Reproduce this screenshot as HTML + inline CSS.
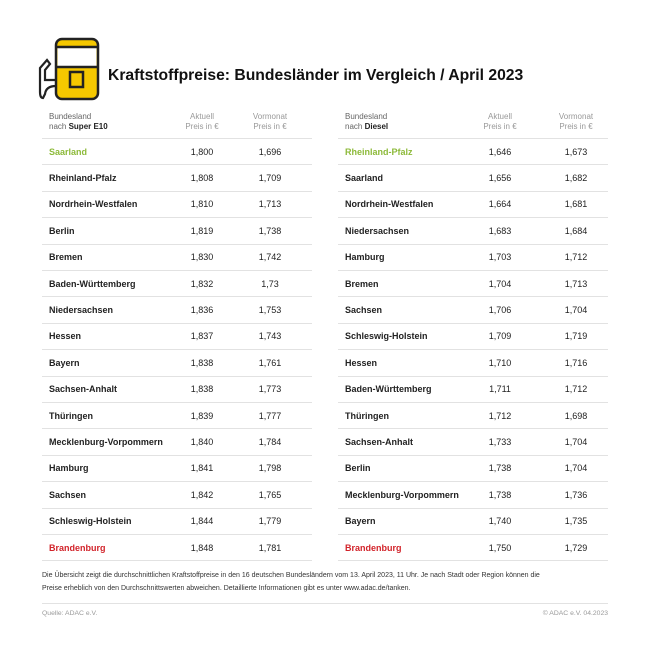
<!DOCTYPE html>
<html><head><meta charset="utf-8"><style>
body{margin:0;background:#fff;width:650px;height:646px;position:relative;font-family:"Liberation Sans",sans-serif;color:#222;overflow:hidden}
.a{position:absolute;white-space:nowrap}
.t{font-size:9px;font-weight:bold}
.n{font-size:9px;text-align:center;width:60px}
.h{font-size:8px;color:#999;line-height:10px}
.l{position:absolute;height:1px;background:#e2e2e2}
</style></head><body>
<svg class="a" style="left:36px;top:36px" width="68" height="66" viewBox="0 0 68 66">
<rect x="20" y="3" width="42" height="60" rx="6" fill="#f5c800" stroke="#222" stroke-width="2.5"/>
<rect x="21.5" y="11" width="39" height="20" fill="#fff"/>
<line x1="20" y1="11" x2="62" y2="11" stroke="#222" stroke-width="2.5"/>
<line x1="20" y1="31" x2="62" y2="31" stroke="#222" stroke-width="2.5"/>
<rect x="34" y="36" width="13" height="15" fill="none" stroke="#222" stroke-width="2.5"/>
<path d="M20 50 Q10 50 9 58 L7 62 Q4 62 4 56 L4 32 L11 24 L14 28 L9 34 L9 44 Q14 44 20 44" fill="none" stroke="#222" stroke-width="2.2"/>
</svg>
<div class="a" style="left:108px;top:67px;font-size:15.7px;font-weight:bold;color:#111">Kraftstoffpreise: Bundesländer im Vergleich / April 2023</div>

<div class="a h" style="left:49px;top:112px;color:#666">Bundesland<br>nach <b style="color:#222">Super E10</b></div>
<div class="a h" style="left:172px;top:112px;width:60px;text-align:center">Aktuell<br>Preis in €</div>
<div class="a h" style="left:240px;top:112px;width:60px;text-align:center">Vormonat<br>Preis in €</div>
<div class="a h" style="left:345px;top:112px;color:#666">Bundesland<br>nach <b style="color:#222">Diesel</b></div>
<div class="a h" style="left:470px;top:112px;width:60px;text-align:center">Aktuell<br>Preis in €</div>
<div class="a h" style="left:546px;top:112px;width:60px;text-align:center">Vormonat<br>Preis in €</div>

<div id="rows"></div>
<script>
var L=[["Saarland","1,800","1,696"],["Rheinland-Pfalz","1,808","1,709"],["Nordrhein-Westfalen","1,810","1,713"],["Berlin","1,819","1,738"],["Bremen","1,830","1,742"],["Baden-Württemberg","1,832","1,73"],["Niedersachsen","1,836","1,753"],["Hessen","1,837","1,743"],["Bayern","1,838","1,761"],["Sachsen-Anhalt","1,838","1,773"],["Thüringen","1,839","1,777"],["Mecklenburg-Vorpommern","1,840","1,784"],["Hamburg","1,841","1,798"],["Sachsen","1,842","1,765"],["Schleswig-Holstein","1,844","1,779"],["Brandenburg","1,848","1,781"]];
var R=[["Rheinland-Pfalz","1,646","1,673"],["Saarland","1,656","1,682"],["Nordrhein-Westfalen","1,664","1,681"],["Niedersachsen","1,683","1,684"],["Hamburg","1,703","1,712"],["Bremen","1,704","1,713"],["Sachsen","1,706","1,704"],["Schleswig-Holstein","1,709","1,719"],["Hessen","1,710","1,716"],["Baden-Württemberg","1,711","1,712"],["Thüringen","1,712","1,698"],["Sachsen-Anhalt","1,733","1,704"],["Berlin","1,738","1,704"],["Mecklenburg-Vorpommern","1,738","1,736"],["Bayern","1,740","1,735"],["Brandenburg","1,750","1,729"]];
var h="";
function tb(D,x0,c1,c2){for(var i=0;i<16;i++){var y=146.5+i*26.4;var col=i==0?"#8dba3a":(i==15?"#d2232a":"#222");
h+='<div class="l" style="left:'+x0+'px;top:'+(y-8.5)+'px;width:270px"></div>';
h+='<div class="a t" style="left:'+(x0+7)+'px;top:'+y+'px;color:'+col+'">'+D[i][0]+'</div>';
h+='<div class="a n" style="left:'+c1+'px;top:'+y+'px">'+D[i][1]+'</div>';
h+='<div class="a n" style="left:'+c2+'px;top:'+y+'px">'+D[i][2]+'</div>';}
h+='<div class="l" style="left:'+x0+'px;top:'+(146.5+16*26.4-8.5)+'px;width:270px"></div>';}
tb(L,42,172,240);tb(R,338,470,546);
document.getElementById("rows").innerHTML=h;
</script>
<div class="a" style="left:42px;top:569px;font-size:7px;line-height:13px;color:#333">Die Übersicht zeigt die durchschnittlichen Kraftstoffpreise in den 16 deutschen Bundesländern vom 13. April 2023, 11 Uhr. Je nach Stadt oder Region können die<br>Preise erheblich von den Durchschnittswerten abweichen. Detaillierte Informationen gibt es unter www.adac.de/tanken.</div>
<div class="l" style="left:42px;top:603px;width:566px"></div>
<div class="a" style="left:42px;top:610px;font-size:6.8px;color:#999">Quelle: ADAC e.V.</div>
<div class="a" style="right:42px;top:610px;font-size:6.8px;color:#999">© ADAC e.V. 04.2023</div>
</body></html>
